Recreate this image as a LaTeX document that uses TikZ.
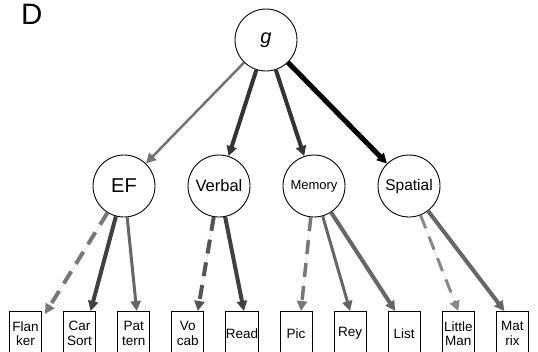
\documentclass[tikz,border=0pt]{standalone}
\usepackage{fontspec}
\setmainfont{Liberation Sans}
\usetikzlibrary{arrows.meta}
\definecolor{cA}{HTML}{737373}
\definecolor{cB}{HTML}{333333}
\definecolor{cC}{HTML}{777777}
\definecolor{cD}{HTML}{404040}
\definecolor{cE}{HTML}{666666}
\definecolor{cF}{HTML}{555555}
\definecolor{cG}{HTML}{888888}
\begin{document}
\begin{tikzpicture}[x=1pt,y=-1pt,
  lat/.style={circle,draw=black,line width=0.9pt,minimum size=62pt,inner sep=0pt},
  obs/.style={draw=black,line width=0.9pt,minimum width=32pt,minimum height=44pt,inner sep=0pt,anchor=north,align=center,font=\fontsize{13.5}{14.5}\selectfont},
  lnk/.style={-{Triangle[length=10pt,width=10pt]}},
  dsh/.style={lnk,dash pattern=on 14pt off 9pt}
]
\useasboundingbox (0,0) rectangle (538,351);
\clip (0,0) rectangle (538,351);
\node[anchor=base west,inner sep=0pt,font=\fontsize{29.5}{29.5}\selectfont] (lab) at (21,24.5) {D};
\node[lat,font=\fontsize{20}{20}\selectfont\itshape] (g) at (266,40) {g};
\node[lat,font=\fontsize{20}{20}\selectfont] (ef) at (124,186) {EF};
\node[lat,font=\fontsize{16.5}{16.5}\selectfont] (verbal) at (219,186) {Verbal};
\node[lat,font=\fontsize{13}{13}\selectfont] (memory) at (314,186) {Memory};
\node[lat,font=\fontsize{15.5}{15.5}\selectfont] (spatial) at (409,186) {Spatial};
\node[obs] (flanker) at (25.5,311) {Flan\\ker};
\node[obs] (carsort) at (79.6,311) {Car\\Sort};
\node[obs] (pattern) at (133.7,311) {Pat\\tern};
\node[obs] (vocab) at (187.8,311) {Vo\\cab};
\node[obs] (read) at (241.9,311) {Read};
\node[obs] (pic) at (296,311) {Pic};
\node[obs] (rey) at (350.1,311) {Rey};
\node[obs] (list) at (404.2,311) {List};
\node[obs] (littleman) at (458.3,311) {Little\\Man};
\node[obs] (matrix) at (512.4,311) {Mat\\rix};
% g to factors
\draw[lnk,draw=cA,fill=cA,line width=2.5pt] (g) -- (ef);
\draw[lnk,draw=cB,fill=cB,line width=4pt] (g) -- (verbal);
\draw[lnk,draw=cB,fill=cB,line width=4pt] (g) -- (memory);
\draw[lnk,draw=black,fill=black,line width=5pt] (g) -- (spatial);
% factors to tasks
\draw[dsh,draw=cC,fill=cC,line width=4pt] (ef) -- ([xshift=3pt,yshift=-3pt]flanker.north east);
\draw[lnk,draw=cD,fill=cD,line width=4pt] (ef) -- ([xshift=11pt]carsort.north);
\draw[lnk,draw=cE,fill=cE,line width=3pt] (ef) -- ([xshift=3pt]pattern.north);
\draw[dsh,draw=cF,fill=cF,line width=4pt] (verbal) -- ([xshift=10pt]vocab.north);
\draw[lnk,draw=cD,fill=cD,line width=4pt] (verbal) -- ([xshift=2pt]read.north);
\draw[dsh,draw=cC,fill=cC,line width=3.5pt] (memory) -- ([xshift=5pt]pic.north);
\draw[lnk,draw=cE,fill=cE,line width=3pt] (memory) -- ([xshift=0pt]rey.north);
\draw[lnk,draw=cE,fill=cE,line width=4pt] (memory) -- ([xshift=-9pt]list.north);
\draw[dsh,draw=cG,fill=cG,line width=3pt] (spatial) -- ([xshift=0pt]littleman.north);
\draw[lnk,draw=cE,fill=cE,line width=4pt] (spatial) -- ([xshift=-8pt]matrix.north);
\end{tikzpicture}
\end{document}
